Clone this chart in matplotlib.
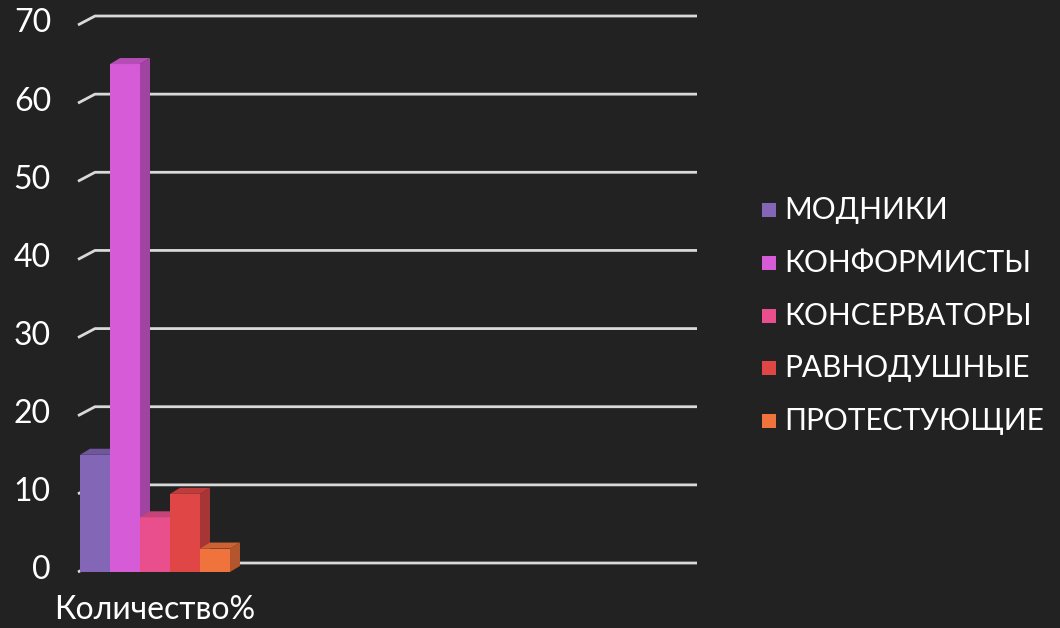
import matplotlib
matplotlib.use('Agg')
import matplotlib.pyplot as plt
from matplotlib.patches import Polygon, Rectangle

# data
category = 'Количество%'
series = ['МОДНИКИ', 'КОНФОРМИСТЫ', 'КОНСЕРВАТОРЫ', 'РАВНОДУШНЫЕ', 'ПРОТЕСТУЮЩИЕ']
values = [15, 65, 7, 10, 3]
colors = ['#8466b6', '#d65bd6', '#e84f8c', '#e04646', '#f0723c']
yticks = [0, 10, 20, 30, 40, 50, 60, 70]

bg = '#222222'
grid_c = '#d9d9d9'
plt.rcParams['font.family'] = ['Lato', 'DejaVu Sans']


def shade(c, f):
    r, g, b = matplotlib.colors.to_rgb(c)
    return (r * f, g * f, b * f)


fig = plt.figure(figsize=(10.6, 6.28), dpi=100, facecolor=bg)
# axes: x units of one bar width (30px), y in value units
x0px, x1px = 78, 697
ybot, ytop = 572, 16
ax = fig.add_axes([x0px / 1060, (628 - ybot) / 628, (x1px - x0px) / 1060, (ybot - ytop) / 628])
ax.set_facecolor(bg)
xmin, xmax = -2 / 30, (x1px - 80) / 30
ax.set_xlim(xmin, xmax)
ymax = 70 + 1.15
ax.set_ylim(0, ymax)
for s in ax.spines.values():
    s.set_visible(False)
ax.set_xticks([])
ax.set_yticks([])

gdx, gdy = 17 / 30, 1.15   # wall depth
bdx, bdy = 10 / 30, 0.77   # bar depth

for t in yticks:
    ax.plot([xmin, xmin + gdx, xmax], [t, t + gdy, t + gdy], color=grid_c, lw=2,
            clip_on=False, solid_capstyle='butt')
    ax.text(xmin - 27 / 30, t + 0.2, str(t), color='white', fontsize=23,
            ha='right', va='center')

for i, (v, c) in enumerate(zip(values, colors)):
    ax.bar(i, v, width=1, align='edge', color=c, zorder=3, lw=0)
    ax.add_patch(Polygon([(i + 1, 0), (i + 1 + bdx, bdy), (i + 1 + bdx, v + bdy), (i + 1, v)],
                         closed=True, fc=shade(c, 0.75), lw=0, zorder=3))
    ax.add_patch(Polygon([(i, v), (i + bdx, v + bdy), (i + 1 + bdx, v + bdy), (i + 1, v)],
                         closed=True, fc=shade(c, 0.85), lw=0, zorder=3))

ax.text(len(values) / 2, -3.0, category, color='white', fontsize=23, ha='center', va='top')

# legend
rows_y = [210, 263, 316, 368, 421]
for name, c, yp in zip(series, colors, rows_y):
    fig.patches.append(Rectangle((762 / 1060, (628 - yp - 7) / 628), 14 / 1060, 14 / 628,
                                 transform=fig.transFigure, fc=c, lw=0))
    fig.text(784 / 1060, (628 - yp) / 628, name, color='white', fontsize=21.5,
             ha='left', va='center')

fig.savefig('out.png', dpi=100, facecolor=bg)
